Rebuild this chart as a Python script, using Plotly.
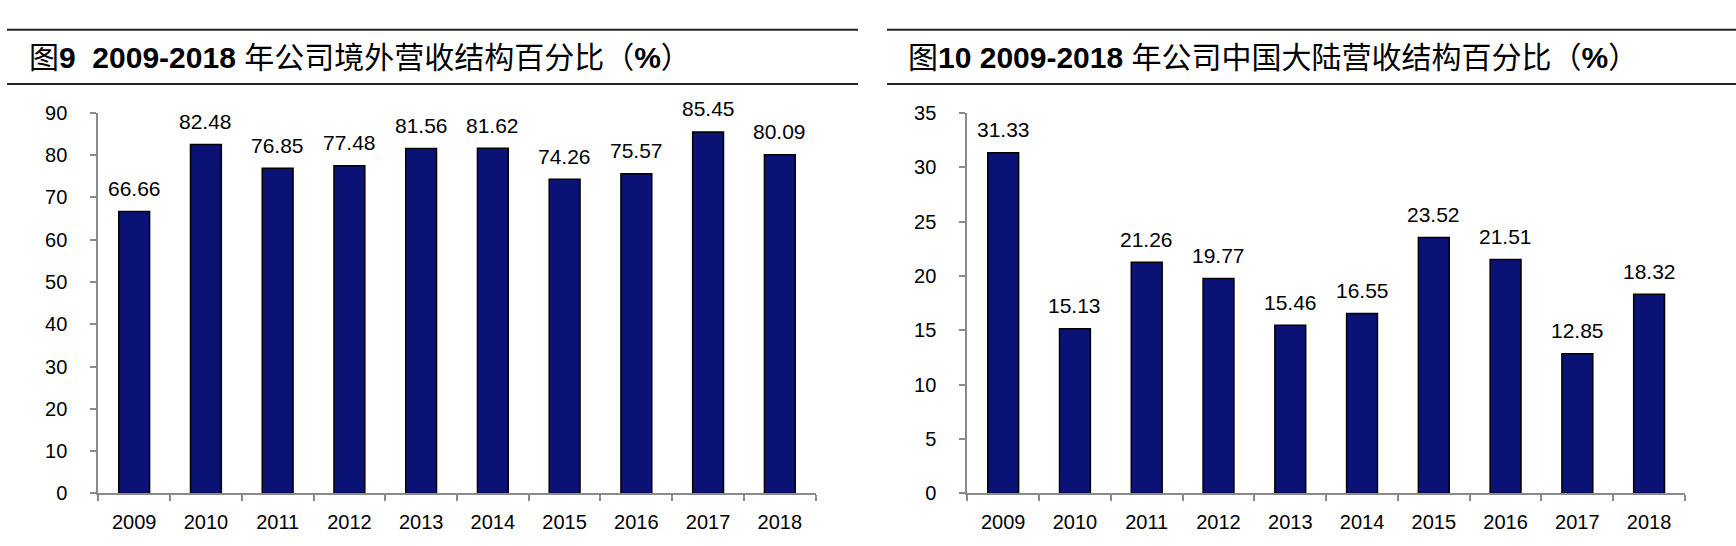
import plotly.graph_objects as go

years = ["2009", "2010", "2011", "2012", "2013", "2014", "2015", "2016", "2017", "2018"]
overseas_share = [66.66, 82.48, 76.85, 77.48, 81.56, 81.62, 74.26, 75.57, 85.45, 80.09]
mainland_share = [31.33, 15.13, 21.26, 19.77, 15.46, 16.55, 23.52, 21.51, 12.85, 18.32]
left_ticks = [0, 10, 20, 30, 40, 50, 60, 70, 80, 90]
right_ticks = [0, 5, 10, 15, 20, 25, 30, 35]
title_left = "图<b>9</b>  <b>2009-2018</b> 年公司境外营收结构百分比（<b>%</b>）"
title_right = "图<b>10 2009-2018</b> 年公司中国大陆营收结构百分比（<b>%</b>）"

W, H = 1736, 546
def px(x):
    return x / W
def py(y):
    return 1 - y / H

BAR = "#0A1276"
AX = "#8a8a8a"
FONT = "Liberation Sans, Arial, Helvetica, sans-serif"
TFONT = "Liberation Sans, Noto Sans CJK SC, sans-serif"

fig = go.Figure()
fig.add_trace(go.Bar(x=years, y=overseas_share, xaxis="x", yaxis="y", width=0.43,
                     marker=dict(color=BAR, line=dict(color="black", width=1.5)),
                     showlegend=False, hoverinfo="x+y"))
fig.add_trace(go.Bar(x=years, y=mainland_share, xaxis="x2", yaxis="y2", width=0.43,
                     marker=dict(color=BAR, line=dict(color="black", width=1.5)),
                     showlegend=False, hoverinfo="x+y"))

ann = []
for xr, yr, vals in (("x", "y", overseas_share), ("x2", "y2", mainland_share)):
    for i, v in enumerate(vals):
        ann.append(dict(x=i, y=v, xref=xr, yref=yr, text=f"{v:.2f}", showarrow=False,
                        yanchor="middle", xanchor="center", yshift=23,
                        font=dict(family=FONT, size=21, color="black")))

ann.append(dict(x=px(27), y=py(48), xref="paper", yref="paper", text=title_left,
                showarrow=False, xanchor="left", yanchor="middle",
                font=dict(family=TFONT, size=30, color="black")))
ann.append(dict(x=px(906), y=py(48), xref="paper", yref="paper", text=title_right,
                showarrow=False, xanchor="left", yanchor="middle",
                font=dict(family=TFONT, size=30, color="black")))

shapes = []
for x0, x1 in ((7, 858), (887, 1736)):
    for yy in (19.5, 76):
        shapes.append(dict(type="line", xref="paper", yref="paper",
                           x0=px(x0), x1=px(x1), y0=py(yy), y1=py(yy),
                           line=dict(color="#222222", width=2)))

xcommon = dict(type="category", range=[-0.5, len(years) - 0.5], autorange=False,
               showgrid=False, showline=True, linecolor=AX, linewidth=2,
               ticks="outside", ticklen=6, tickcolor=AX, tickwidth=2, tickson="boundaries",
               tickangle=0,
               tickfont=dict(family=FONT, size=20, color="black"), ticklabelstandoff=10,
               fixedrange=True)
ycommon = dict(showgrid=False, zeroline=False, showline=True, linecolor=AX, linewidth=2,
               ticks="outside", ticklen=6, tickcolor=AX, tickwidth=2,
               tickfont=dict(family=FONT, size=20, color="black"), ticklabelstandoff=19,
               fixedrange=True)

ydom = [py(502.7), py(106)]
fig.update_layout(
    width=W, height=H, margin=dict(l=0, r=0, t=0, b=0),
    paper_bgcolor="white", plot_bgcolor="white", bargap=0.57,
    xaxis=dict(domain=[px(98.3), px(815.7)], anchor="y", **xcommon),
    yaxis=dict(domain=ydom, anchor="x", range=[0, 90], tickvals=left_ticks, **ycommon),
    xaxis2=dict(domain=[px(967.3), px(1685)], anchor="y2", **xcommon),
    yaxis2=dict(domain=ydom, anchor="x2", range=[0, 35], tickvals=right_ticks, **ycommon),
    annotations=ann, shapes=shapes,
)

fig.write_html("out.html", config=dict(displayModeBar=False),
               post_script="document.body.style.margin='0px';document.body.style.overflow='hidden';")
